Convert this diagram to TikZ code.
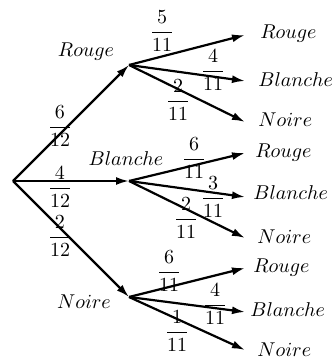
\documentclass[tikz,border=0pt]{standalone}
\usepackage{amsmath}
\usetikzlibrary{arrows.meta}
\begin{document}
\begin{tikzpicture}[x=0.5pt,y=-0.5pt,
  arr/.style={-{Latex[length=6.5pt,width=4pt]},line width=1.1pt},
  lab/.style={inner sep=0pt},
  prob/.style={inner sep=0pt}]
\useasboundingbox (0,0) rectangle (335,358);
% points
\coordinate (O) at (13,181);
\coordinate (R) at (129,65);
\coordinate (B) at (129,181);
\coordinate (N) at (129,297);
\coordinate (RR) at (245,35);
\coordinate (RB) at (245,81);
\coordinate (RN) at (245,122);
\coordinate (BR) at (245,153);
\coordinate (BB) at (245,197);
\coordinate (BN) at (245,238);
\coordinate (NR) at (245,268);
\coordinate (NB) at (245,312);
\coordinate (NN) at (245,350);
% first level
\draw[arr] (O) -- (R);
\draw[arr] (O) -- (B);
\draw[arr] (O) -- (N);
% second level
\foreach \p in {R,B,N}{
  \draw[arr] (\p) -- (\p R);
  \draw[arr] (\p) -- (\p B);
  \draw[arr] (\p) -- (\p N);
}
% first-level labels
\node[lab] (lR) at (86,52) {$Rouge$};
\node[lab] (lB) at (126,159) {$Blanche$};
\node[lab] (lN) at (84,302) {$Noire$};
% end labels
\node[lab,anchor=west] (lRR) at (260,34) {$Rouge$};
\node[lab,anchor=west] (lRB) at (258,80) {$Blanche$};
\node[lab,anchor=west] (lRN) at (258,120) {$Noire$};
\node[lab,anchor=west] (lBR) at (255,153) {$Rouge$};
\node[lab,anchor=west] (lBB) at (253,193) {$Blanche$};
\node[lab,anchor=west] (lBN) at (257,237) {$Noire$};
\node[lab,anchor=west] (lNR) at (253,268) {$Rouge$};
\node[lab,anchor=west] (lNB) at (250,310) {$Blanche$};
\node[lab,anchor=west] (lNN) at (257,350) {$Noire$};
% first-level probabilities
\node[prob] (p1) at (60,126) {$\dfrac{6}{12}$};
\node[prob] (p2) at (60,187) {$\dfrac{4}{12}$};
\node[prob] (p3) at (60,236) {$\dfrac{2}{12}$};
% second-level probabilities
\node[prob] (q1) at (162,31) {$\dfrac{5}{11}$};
\node[prob] (q2) at (213,70) {$\dfrac{4}{11}$};
\node[prob] (q3) at (178,100) {$\dfrac{2}{11}$};
\node[prob] (q4) at (194,158) {$\dfrac{6}{11}$};
\node[prob] (q5) at (213,197) {$\dfrac{3}{11}$};
\node[prob] (q6) at (186,218) {$\dfrac{2}{11}$};
\node[prob] (q7) at (169,271) {$\dfrac{6}{11}$};
\node[prob] (q8) at (215,304) {$\dfrac{4}{11}$};
\node[prob] (q9) at (177,331) {$\dfrac{1}{11}$};
\end{tikzpicture}
\end{document}
